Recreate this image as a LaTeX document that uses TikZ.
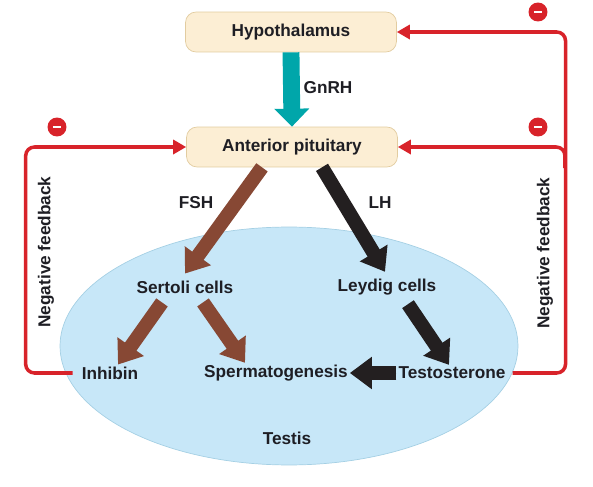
\documentclass[tikz,border=0pt]{standalone}
\usepackage{fontspec}
\setmainfont{Liberation Sans}
\usepackage{xcolor}
\usetikzlibrary{arrows.meta,positioning,shapes.geometric}
\definecolor{boxfill}{RGB}{252,238,212}
\definecolor{boxline}{RGB}{226,204,160}
\definecolor{gnrhteal}{RGB}{0,166,170}
\definecolor{fshbrown}{RGB}{135,72,52}
\definecolor{lhblack}{RGB}{35,31,32}
\definecolor{testisfill}{RGB}{199,231,248}
\definecolor{testisline}{RGB}{165,208,228}
\definecolor{fbred}{RGB}{216,35,42}
\definecolor{labeltext}{RGB}{30,30,36}

\begin{document}
\begin{tikzpicture}[
x=0.02cm, y=-0.02cm,
font=\bfseries\fontsize{9.8}{12}\selectfont,
gland/.style={draw=boxline, fill=boxfill, rounded corners=6pt, minimum width=4.22cm, minimum height=0.8cm, text=labeltext},
lbl/.style={text=labeltext, inner sep=1pt},
gnrharr/.style={draw=gnrhteal, line width=9.6pt, -{Triangle[length=0.36cm, width=0.68cm]}},
fsharr/.style={draw=fshbrown, fill=fshbrown, line width=8pt, -{Triangle[length=0.44cm, width=0.62cm]}},
lharr/.style={fsharr, draw=lhblack, fill=lhblack},
fb/.style={draw=fbred, line width=2pt, rounded corners=5pt, -{Triangle[length=0.26cm, width=0.28cm]}},
minus/.style={circle, fill=fbred, minimum size=0.38cm, inner sep=0pt, text=white}
]
\useasboundingbox (0,0) rectangle (593,487);
\node[ellipse, fill=testisfill, draw=testisline, minimum width=9.16cm, minimum height=4.76cm] (testis) at (289,346) {};
\node[lbl] (testislbl) at (287,438) {Testis};

\node[gland] (hypo) at (291,32) {Hypothalamus};
\node[gland] (pit) at (292,147) {Anterior pituitary};
\node[lbl] (sertoli) at (185,287) {Sertoli cells};
\node[lbl] (leydig) at (387,287) {Leydig cells};
\node[lbl] (inhibin) at (110,373) {Inhibin};
\node[lbl] (sperm) at (276,373) {Spermatogenesis};
\node[lbl] (testost) at (452,373) {Testosterone};

\node[lbl] (gnrh) at (328,88) {GnRH};
\node[lbl] (fsh) at (196,203) {FSH};
\node[lbl] (lh) at (380,203) {LH};
\node[lbl, rotate=90] (negl) at (46,252) {Negative feedback};
\node[lbl, rotate=90] (negr) at (545,253) {Negative feedback};

\draw[gnrharr] (hypo.south) -- (pit.north);
\draw[fsharr] ([xshift=-0.6cm]pit.south) -- ([yshift=0.1cm]sertoli.north);
\draw[lharr] ([xshift=0.6cm]pit.south) -- ([xshift=-0.04cm, yshift=0.1cm]leydig.north);
\draw[fsharr] ([xshift=-0.46cm, yshift=-0.14cm]sertoli.south) -- ([xshift=0.16cm]inhibin.north);
\draw[fsharr] ([xshift=0.36cm, yshift=-0.14cm]sertoli.south) -- ([xshift=-0.62cm]sperm.north);
\draw[lharr] ([xshift=0.42cm, yshift=-0.14cm]leydig.south) -- ([xshift=-0.06cm]testost.north);
\draw[lharr] (testost.west) -- (sperm.east);

\draw[fb] ([xshift=-0.14cm]inhibin.west) -- ++(-47,0) |- (pit.west);
\draw[fb] ([xshift=0.1cm]testost.east) -- ++(53,0) |- (hypo.east);
\coordinate (rjoin) at (565,168);
\draw[fb] (rjoin) |- (pit.east);

\node[minus] (m1) at (57,127) {\rule{0.17cm}{0.055cm}};
\node[minus] (m2) at (538,12) {\rule{0.17cm}{0.055cm}};
\node[minus] (m3) at (538,127) {\rule{0.17cm}{0.055cm}};
\end{tikzpicture}
\end{document}
